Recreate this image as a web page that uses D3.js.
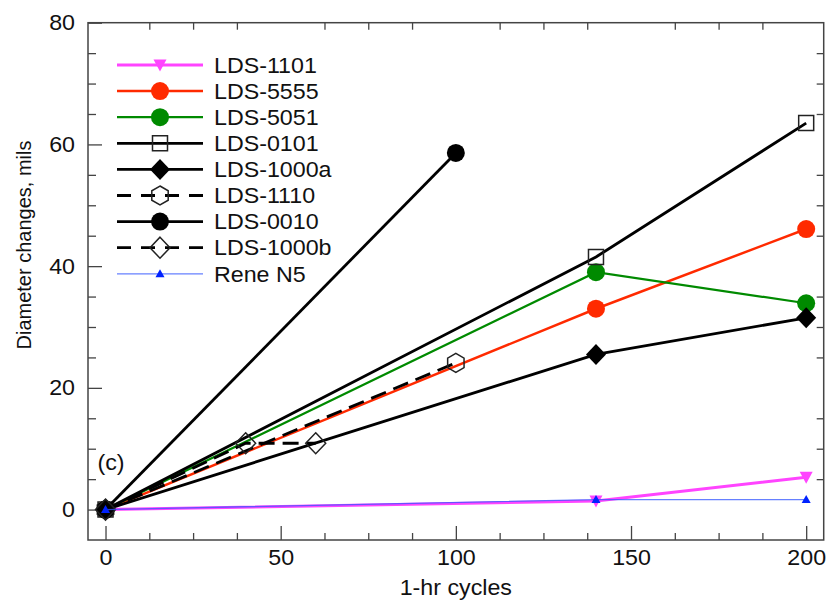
<!DOCTYPE html>
<html>
<head>
<meta charset="utf-8">
<script src="https://cdn.jsdelivr.net/npm/d3@7"></script>
<style>
  body { margin: 0; background: #fff; }
  text { font-family: "Liberation Sans", Arial, sans-serif; fill: #111; }
</style>
</head>
<body>
<svg id="chart" width="831" height="602"></svg>
<script>
// values: diameter change (mils) vs 1-hr cycles
const cyclesA = [0, 140, 200];
const cyclesB = [0, 100];
const cyclesC = [0, 40, 60];

const lds1101 = [0, 1.4, 5.3];
const lds5555 = [0, 33.0, 46.1];
const lds5051 = [0, 39.0, 33.9];
const lds0101 = [0, 41.5, 63.5];
const lds1000a = [0, 25.5, 31.5];
const lds1110 = [0, 24.1];
const lds0010 = [0, 58.6];
const lds1000b = [0, 10.9, 10.9];
const reneN5 = [0, 1.65, 1.65];

const xMajor = [0, 50, 100, 150, 200];
const yMajor = [0, 20, 40, 60, 80];

const series = [
    { name: "LDS-1101",  xs: cyclesA, ys: lds1101,  color: "#ff44ff", lw: 3,   marker: "tdown",   filled: true },
    { name: "LDS-5555",  xs: cyclesA, ys: lds5555,  color: "#ff2a00", lw: 2.5, marker: "circle",  filled: true },
    { name: "LDS-5051",  xs: cyclesA, ys: lds5051,  color: "#008a00", lw: 2.2, marker: "circle",  filled: true },
    { name: "LDS-0101",  xs: cyclesA, ys: lds0101,  color: "#000",    lw: 2.8, marker: "square",  filled: false },
    { name: "LDS-1000a", xs: cyclesA, ys: lds1000a, color: "#000",    lw: 2.8, marker: "diamond", filled: true },
    { name: "LDS-1110",  xs: cyclesB, ys: lds1110,  color: "#000",    lw: 2.8, marker: "hex",     filled: false, dash: "16,8" },
    { name: "LDS-0010",  xs: cyclesB, ys: lds0010,  color: "#000",    lw: 2.8, marker: "circle",  filled: true },
    { name: "LDS-1000b", xs: cyclesC, ys: lds1000b, color: "#000",    lw: 2.8, marker: "diamond", filled: false, dash: "16,8" },
    { name: "Rene N5",   xs: cyclesA, ys: reneN5,   color: "#3355ff", lw: 1.3, marker: "tup",     filled: true, mcolor: "#0022ff", opacity: 0.75 }
];

const plotLeft = 88, plotRight = 823.7, plotTop = 22.7, plotBottom = 540;
const fontPx = 21.5;
const stretchK = 1.08;   // glyphs in the figure are a little wide

const svg = d3.select("#chart");

const x = d3.scaleLinear().domain([-5, 205]).range([plotLeft, plotRight]);
const y = d3.scaleLinear().domain([-5, 80]).range([plotBottom, plotTop]);

function markerPath(type) {
    switch (type) {
        case "circle": return "M9,0A9,9 0 1,1 -9,0A9,9 0 1,1 9,0Z";
        case "square": return "M-7.5,-7.5H7.5V7.5H-7.5Z";
        case "diamond": return "M0,-10.5L10,0L0,10.5L-10,0Z";
        case "hex": return "M0,-9.5L8.2,-4.75L8.2,4.75L0,9.5L-8.2,4.75L-8.2,-4.75Z";
        case "tdown": return "M-6.5,-5.5L6.5,-5.5L0,6.5Z";
        case "tup": return "M-4.5,3.5L4.5,3.5L0,-4.5Z";
    }
}

function drawMarker(g, s, cx, cy) {
    const c = s.mcolor || s.color;
    g.append("path")
        .attr("transform", `translate(${cx},${cy})`)
        .attr("d", markerPath(s.marker))
        .attr("fill", s.filled ? c : "none")
        .attr("stroke", s.filled ? "none" : "#222")
        .attr("stroke-width", 1.5);
}

function stretch(sel) {
    sel.each(function () {
        const len = this.getComputedTextLength();
        this.setAttribute("textLength", len * stretchK);
        this.setAttribute("lengthAdjust", "spacingAndGlyphs");
    });
}

// axes: ticks point inward, majors only on bottom/left
function minorTicks(step, lo, hi, majorStep) {
    const out = [];
    for (let v = lo; v <= hi + 1e-9; v += step) {
        if (Math.abs(v / majorStep - Math.round(v / majorStep)) > 1e-6) out.push(v);
    }
    return out;
}
const xMinor = minorTicks(12.5, 0, 200, 50);
const yMinor = minorTicks(5, 5, 75, 20);

const axes = svg.append("g").attr("class", "axes");

axes.append("g").attr("transform", `translate(0,${plotBottom})`)
    .call(d3.axisBottom(x).tickValues(xMinor).tickSize(-7).tickFormat(""));
axes.append("g").attr("transform", `translate(0,${plotBottom})`)
    .call(d3.axisBottom(x).tickValues(xMajor).tickSize(-14).tickPadding(10).tickFormat(d3.format("d")));
axes.append("g").attr("transform", `translate(0,${plotTop})`)
    .call(d3.axisTop(x).tickValues(xMinor).tickSize(-7).tickFormat(""));

axes.append("g").attr("transform", `translate(${plotLeft},0)`)
    .call(d3.axisLeft(y).tickValues(yMinor).tickSize(-8).tickFormat(""));
axes.append("g").attr("transform", `translate(${plotLeft},0)`)
    .call(d3.axisLeft(y).tickValues(yMajor).tickSize(-14).tickPadding(13).tickFormat(d3.format("d")));
axes.append("g").attr("transform", `translate(${plotRight},0)`)
    .call(d3.axisRight(y).tickValues(yMinor).tickSize(-7).tickFormat(""));

axes.selectAll(".domain").remove();
axes.selectAll(".tick line").attr("stroke", "#444").attr("stroke-width", 1.3);
axes.selectAll(".tick text").attr("font-size", fontPx).attr("fill", "#111")
    .attr("font-family", "Liberation Sans, Arial, sans-serif");
stretch(axes.selectAll(".tick text"));

// data lines and markers
const line = d3.line().x(d => x(d[0])).y(d => y(d[1]));
const plot = svg.append("g");

series.forEach(s => {
    const pts = s.xs.map((v, i) => [v, s.ys[i]]);
    const g = plot.append("g");
    g.append("path")
        .attr("d", line(pts))
        .attr("fill", "none")
        .attr("stroke", s.color)
        .attr("stroke-width", s.lw)
        .attr("stroke-opacity", s.opacity || 1)
        .attr("stroke-dasharray", s.dash || null);
    pts.forEach(p => drawMarker(g, s, x(p[0]), y(p[1])));
});

// frame
svg.append("rect")
    .attr("x", plotLeft).attr("y", plotTop)
    .attr("width", plotRight - plotLeft).attr("height", plotBottom - plotTop)
    .attr("fill", "none").attr("stroke", "#444").attr("stroke-width", 1.5);

// legend
const legend = svg.append("g");
const rowY0 = 65, rowStep = 26.1;
series.forEach((s, i) => {
    const cy = rowY0 + i * rowStep;
    const g = legend.append("g");
    g.append("line")
        .attr("x1", 117).attr("x2", 203).attr("y1", cy).attr("y2", cy)
        .attr("stroke", s.color)
        .attr("stroke-width", s.lw)
        .attr("stroke-opacity", s.opacity || 1)
        .attr("stroke-dasharray", s.dash ? "14,10" : null);
    drawMarker(g, s, 160, cy);
    g.append("text")
        .attr("x", 214).attr("y", cy + 7.7)
        .attr("font-size", fontPx)
        .text(s.name);
});
stretch(legend.selectAll("text"));

// panel tag
const tag = svg.append("text")
    .attr("x", x(-2.3)).attr("y", y(6.5))
    .attr("font-size", fontPx)
    .text("(c)");
stretch(tag);

// axis titles
const xt = svg.append("text")
    .attr("x", (plotLeft + plotRight) / 2).attr("y", 595)
    .attr("text-anchor", "middle")
    .attr("font-size", fontPx)
    .text("1-hr cycles");
stretch(xt);

svg.append("text")
    .attr("transform", "translate(31,245) rotate(-90)")
    .attr("text-anchor", "middle")
    .attr("font-size", 20)
    .text("Diameter changes, mils");
</script>
</body>
</html>
